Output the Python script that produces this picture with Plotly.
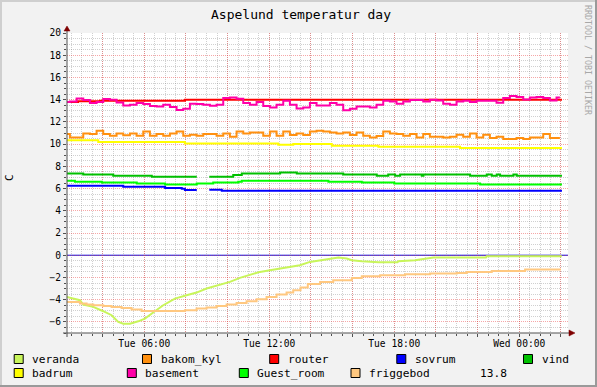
import plotly.graph_objects as go

# ---------------- data (hours since Tue 00:00, temperature in C) ----------------
title_text = "Aspelund temperatur day"
x_start, x_end = 2.29, 26.34
y_min, y_max = -7, 20
label_hours = [6, 12, 18, 24]
label_texts = ["Tue 06:00", "Tue 12:00", "Tue 18:00", "Wed 00:00"]

names = ["veranda", "bakom_kyl", "router", "sovrum", "vind",
         "badrum", "basement", "Guest_room", "friggebod"]
colors = ["#C8F55A", "#FF9010", "#FF0000", "#0000FF", "#00C000",
          "#FFFF00", "#FF00A8", "#00FF00", "#FFC880"]
last_value_text = "13.8"
zero_rule = 0

# wiggly series sampled on a regular grid
grid_start = 2.27
grid_step = 0.32
basement = [13.78, 13.84, 14.1, 13.96, 13.69, 13.78, 14.05, 13.99, 13.75, 13.48,
            13.54, 13.69, 13.6, 13.42, 13.39, 13.54, 13.33, 13.06, 13.18, 13.63,
            13.6, 13.54, 13.45, 13.54, 14.14, 14.2, 14.08, 13.69, 13.54, 13.78,
            13.42, 13.3, 13.54, 13.9, 13.54, 13.21, 13.3, 13.69,
            13.48, 13.48, 13.69, 13.54, 13.05, 13.18, 13.39, 13.39, 13.3, 13.54,
            13.9, 13.84, 13.63, 13.84, 13.96, 13.96, 13.84, 13.99, 13.93, 13.63,
            13.54, 13.84, 13.9, 13.78, 13.9, 13.9, 13.9, 13.72, 14.14, 14.32,
            14.23, 14.02, 14.2, 14.23, 14.14, 13.93, 14.2]
bakom_kyl = [10.9, 10.6, 10.6, 10.96, 10.9, 11.2, 10.9, 10.75, 10.96, 10.8,
             10.96, 10.75, 11.14, 10.75, 10.9, 10.75, 10.96, 11.14, 10.75, 10.84,
             10.75, 10.9, 10.9, 10.75, 10.96, 10.66, 11.14, 10.96, 11.05, 11.05,
             10.75, 11.14, 10.75, 11.14, 10.81, 10.96, 10.81, 11.14,
             11.2, 11.14, 11.05, 10.96, 11.05, 10.81, 11.05, 10.75, 10.6, 10.72,
             11.14, 10.96, 10.9, 10.75, 10.9, 10.6, 10.9, 10.66, 10.66, 10.6,
             10.66, 10.84, 10.66, 10.96, 10.6, 10.84, 10.54, 10.66, 10.45, 10.45,
             10.54, 10.45, 10.6, 10.6, 10.9, 10.54, 10.54]

# step series given at change points
router_t = [2.29, 2.82, 3.87, 7.95, 26.05]
router_v = [13.8, 13.85, 13.9, 14.0, 14.0]

badrum_t = [2.29, 3.79, 7.95, 12.43, 13.15, 15.0, 17.24, 21.16, 26.05]
badrum_v = [10.35, 10.2, 10.05, 9.95, 10.0, 9.85, 9.76, 9.64, 9.64]

vind_t = [2.29, 3.07, 4.51, 6.36, 8.52, 8.53, 9.12, 10.27, 10.68, 12.52, 13.32,
          15.55, 17.16, 17.71, 18.04, 18.28, 19.32, 19.4, 21.64, 22.44, 22.68,
          22.92, 23.08, 23.72, 23.88, 26.05]
vind_v = [7.36, 7.27, 7.15, 7.06, 7.06, None, 7.06, 7.21, 7.36, 7.45, 7.36,
          7.27, 7.15, 7.27, 7.15, 7.27, 7.15, 7.27, 7.15, 7.27, 7.15,
          7.27, 7.15, 7.27, 7.15, 7.15]

guest_t = [2.29, 2.67, 3.96, 5.64, 7.0, 8.52, 9.31, 10.51, 10.68, 14.84, 16.44,
           18.0, 22.12, 26.05]
guest_v = [6.7, 6.61, 6.55, 6.46, 6.37, 6.46, 6.55, 6.61, 6.7, 6.61, 6.55,
           6.46, 6.37, 6.37]

sovrum_t = [2.29, 4.99, 7.0, 7.8, 7.95, 8.52, 8.53, 9.12, 9.72, 26.05]
sovrum_v = [6.25, 6.16, 6.04, 5.98, 5.86, 5.86, None, 5.89, 5.8, 5.8]

veranda_t = [2.27, 2.67, 2.91, 3.07, 3.55, 4.03, 4.43, 4.75, 4.99, 5.31, 5.71,
             6.03, 6.27, 6.51, 6.91, 7.23, 7.47, 8.03, 8.51, 8.99, 9.55, 10.11,
             10.59, 11.07, 11.55, 12.03, 12.51, 12.99, 13.47, 13.95, 14.52, 15.0,
             15.32, 15.72, 15.96, 16.44, 17.24, 18.16, 18.2, 19.0, 19.88, 22.4,
             22.44, 26.04]
veranda_v = [-3.75, -3.9, -4.05, -4.44, -4.65, -5.04, -5.4, -6.0, -6.16, -6.16,
             -5.95, -5.7, -5.4, -5.04, -4.5, -4.2, -3.9, -3.6, -3.36, -3.0, -2.7,
             -2.4, -2.04, -1.74, -1.5, -1.35, -1.2, -1.05, -0.9, -0.6, -0.45, -0.3,
             -0.21, -0.3, -0.45, -0.54, -0.63, -0.63, -0.54, -0.45, -0.21, -0.21,
             -0.09, -0.09]

frigg_t = [2.27, 2.91, 3.23, 3.55, 4.03, 4.43, 4.91, 5.39, 5.87, 7.95, 8.51,
           8.99, 9.47, 9.95, 10.43, 10.91, 11.39, 11.87, 12.35, 12.83, 13.15,
           13.5, 13.85, 14.44, 15.07, 15.96, 16.44, 17.32, 18.52, 19.72, 21.0,
           21.48, 22.68, 24.28, 26.0]
frigg_v = [-4.2, -4.35, -4.44, -4.5, -4.56, -4.65, -4.74, -4.89, -5.01, -4.95,
           -4.8, -4.71, -4.56, -4.44, -4.29, -4.14, -3.96, -3.75, -3.54, -3.36,
           -3.15, -2.9, -2.6, -2.4, -2.25, -2.05, -1.89, -1.8, -1.71, -1.65,
           -1.59, -1.5, -1.41, -1.29, -1.29]

# ---------------- layout geometry ----------------
W, H = 597, 387
L, R, T, B = 67, 568, 33, 333
FONT = "DejaVu Sans Mono"


def px(x):
    return (x - L) / (R - L)


def py(y):
    return (B - y) / (B - T)


grid_t = [grid_start + grid_step * i for i in range(len(basement))]

series = {
    "veranda": (veranda_t, veranda_v, "linear"),
    "bakom_kyl": (grid_t, bakom_kyl, "hvh"),
    "router": (router_t, router_v, "hv"),
    "sovrum": (sovrum_t, sovrum_v, "hv"),
    "vind": (vind_t, vind_v, "hv"),
    "badrum": (badrum_t, badrum_v, "hv"),
    "basement": (grid_t, basement, "hvh"),
    "Guest_room": (guest_t, guest_v, "hv"),
    "friggebod": (frigg_t, frigg_v, "hv"),
}

fig = go.Figure()
for name, col in zip(names, colors):
    t, v, shape = series[name]
    fig.add_trace(go.Scatter(x=t, y=v, mode="lines", name=name,
                             line=dict(color=col, width=2, shape=shape),
                             connectgaps=False, showlegend=False,
                             hoverinfo="skip"))

major_x = list(range(4, 27, 2))
major_text = [label_texts[label_hours.index(h)] if h in label_hours else "" for h in major_x]

red_grid = "rgba(235,60,60,0.45)"
gray_grid = "rgba(120,120,120,0.35)"
axis_col = "#505050"

fig.update_layout(
    width=W, height=H,
    margin=dict(l=L, r=W - R, t=T, b=H - B, pad=0),
    paper_bgcolor="#F2F2F2", plot_bgcolor="#FFFFFF",
    font=dict(family=FONT, size=10, color="#000000"),
    showlegend=False,
    xaxis=dict(range=[x_start, x_end], tickmode="array", tickvals=major_x,
               ticktext=major_text, showgrid=True, gridcolor=red_grid,
               griddash="1px,1px", gridwidth=1, zeroline=False,
               ticks="outside", ticklen=3, tickcolor=axis_col,
               ticklabelstandoff=-2,
               tickfont=dict(family=FONT, size=9.6, color="#000"),
               showline=False, fixedrange=True,
               minor=dict(tickmode="linear", tick0=0, dtick=0.5, showgrid=True,
                          gridcolor=gray_grid, griddash="1px,1px",
                          ticks="outside", ticklen=2, tickcolor=axis_col)),
    yaxis=dict(range=[y_min, y_max], tickmode="linear", tick0=0, dtick=2,
               showgrid=True, gridcolor=red_grid, griddash="1px,1px",
               zeroline=False,
               ticks="outside", ticklen=3, tickcolor=axis_col,
               tickfont=dict(family=FONT, size=9.6, color="#000"),
               showline=False, fixedrange=True,
               minor=dict(tickmode="linear", tick0=0, dtick=0.5, showgrid=True,
                          gridcolor=gray_grid, griddash="1px,1px",
                          ticks="outside", ticklen=2, tickcolor=axis_col)),
)

shapes = []
# horizontal rule at zero (dark blue, as in the reference)
shapes.append(dict(type="line", xref="paper", yref="y", x0=0, x1=1,
                   y0=zero_rule, y1=zero_rule, line=dict(color="#0000E0", width=1),
                   layer="below"))
# frame shading
shapes.append(dict(type="rect", xref="paper", yref="paper", x0=px(0), x1=px(W),
                   y0=py(2), y1=py(0), fillcolor="#CFCFCF", line_width=0, layer="below"))
shapes.append(dict(type="rect", xref="paper", yref="paper", x0=px(0), x1=px(2),
                   y0=py(H), y1=py(0), fillcolor="#CFCFCF", line_width=0, layer="below"))
shapes.append(dict(type="rect", xref="paper", yref="paper", x0=px(0), x1=px(W),
                   y0=py(H), y1=py(H - 2), fillcolor="#9A9A9A", line_width=0, layer="below"))
shapes.append(dict(type="rect", xref="paper", yref="paper", x0=px(W - 2), x1=px(W),
                   y0=py(H), y1=py(0), fillcolor="#9A9A9A", line_width=0, layer="below"))
# axes lines
shapes.append(dict(type="line", xref="paper", yref="paper", x0=px(L), x1=px(L),
                   y0=py(B + 4), y1=py(30), line=dict(color=axis_col, width=1), layer="above"))
shapes.append(dict(type="line", xref="paper", yref="paper", x0=px(L - 4), x1=px(570),
                   y0=py(B), y1=py(B), line=dict(color=axis_col, width=1), layer="above"))
# arrowheads
shapes.append(dict(type="path", xref="paper", yref="paper",
                   path=f"M {px(L - 3)},{py(31)} L {px(L + 3)},{py(31)} L {px(L)},{py(26)} Z",
                   fillcolor="#7F0000", line=dict(color="#7F0000", width=0.5), layer="above"))
shapes.append(dict(type="path", xref="paper", yref="paper",
                   path=f"M {px(569)},{py(B - 3)} L {px(569)},{py(B + 3)} L {px(575)},{py(B)} Z",
                   fillcolor="#7F0000", line=dict(color="#7F0000", width=0.5), layer="above"))

annotations = []
annotations.append(dict(text=title_text, xref="paper", yref="paper", x=px(W / 2 + 2), y=py(14),
                        xanchor="center", yanchor="middle", showarrow=False,
                        font=dict(family=FONT, size=13, color="#000")))
annotations.append(dict(text="C", xref="paper", yref="paper", x=px(10), y=py(178),
                        xanchor="center", yanchor="middle", showarrow=False, textangle=-90,
                        font=dict(family=FONT, size=11, color="#000")))
annotations.append(dict(text="RRDTOOL / TOBI OETIKER", xref="paper", yref="paper",
                        x=px(588), y=py(60), xanchor="center", yanchor="middle",
                        showarrow=False, textangle=90,
                        font=dict(family=FONT, size=8.3, color="#A8A8A8")))

# legend (rrdtool style)
legend_pos = {
    "veranda": (18.7, 359), "bakom_kyl": (147, 359), "router": (274.2, 359),
    "sovrum": (401.3, 359), "vind": (528, 359),
    "badrum": (18.7, 373), "basement": (131.8, 373), "Guest_room": (243.8, 373),
    "friggebod": (355.5, 373),
}
for name, col in zip(names, colors):
    cx, cy = legend_pos[name]
    shapes.append(dict(type="rect", xref="paper", yref="paper",
                       x0=px(cx - 4.5), x1=px(cx + 4.5), y0=py(cy + 4.5), y1=py(cy - 4.5),
                       fillcolor=col, line=dict(color="#000", width=1), layer="above"))
    annotations.append(dict(text=name, xref="paper", yref="paper", x=px(cx + 11.5), y=py(cy),
                            xanchor="left", yanchor="middle", showarrow=False,
                            font=dict(family=FONT, size=11.2, color="#000")))
annotations.append(dict(text=last_value_text, xref="paper", yref="paper", x=px(478), y=py(373),
                        xanchor="left", yanchor="middle", showarrow=False,
                        font=dict(family=FONT, size=11.2, color="#000")))

fig.update_layout(shapes=shapes, annotations=annotations)

fig.write_html("out.html", config={"displayModeBar": False, "staticPlot": True},
               post_script="document.body.style.margin='0';")
